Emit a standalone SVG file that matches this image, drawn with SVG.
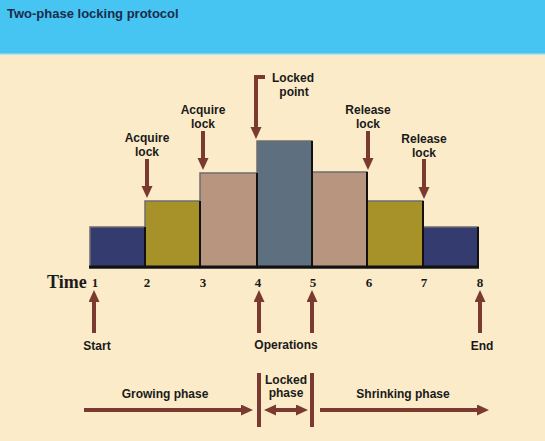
<svg xmlns="http://www.w3.org/2000/svg" width="545" height="441" viewBox="0 0 545 441">
<defs>
<style>
.lbl{font-family:"Liberation Sans",Arial,sans-serif;font-weight:bold;font-size:12px;fill:#1a1a1a;text-anchor:middle}
.num{font-family:"Liberation Serif","Times New Roman",serif;font-weight:bold;font-size:13px;fill:#1a1a1a;text-anchor:middle}
.bar{stroke:#6e6e6e;stroke-width:1.5}
.arr{stroke:#7a3a2f;stroke-width:4;fill:none}
.pole{fill:#7a3a2f}
</style>
<marker id="ah" markerUnits="userSpaceOnUse" markerWidth="13" markerHeight="12" refX="2" refY="5.5" orient="auto-start-reverse" viewBox="0 0 13 12">
<path d="M0,0 L12,5.5 L0,11 z" fill="#7a3a2f"/>
</marker>
</defs>
<rect x="0" y="0" width="545" height="441" fill="#fbebc9"/>
<g id="header">
<rect x="0" y="0" width="545" height="54" fill="#46c5f2"/>
<rect x="0" y="53" width="545" height="1.5" fill="#7fd6f4"/>
<text x="7" y="18" style="font-family:'Liberation Sans',Arial,sans-serif;font-weight:bold;font-size:13px;fill:#1a2b4a">Two-phase locking protocol</text>
</g>
<g id="bars">
<rect class="bar" x="90" y="227" width="55" height="41" fill="#343b6e"/>
<rect class="bar" x="145" y="201" width="55" height="67" fill="#a79129"/>
<rect class="bar" x="200" y="173" width="57" height="95" fill="#b8957f"/>
<rect class="bar" x="257" y="141" width="55" height="127" fill="#5e6f80"/>
<rect class="bar" x="312" y="172" width="55" height="96" fill="#b8957f"/>
<rect class="bar" x="367" y="201" width="56" height="67" fill="#a79129"/>
<rect class="bar" x="423" y="227" width="55" height="41" fill="#343b6e"/>
<path d="M145,227 V268 M200,201 V268 M257,173 V268 M312,141 V268 M367,172 V268 M423,201 V268 M478,227 V268" stroke="#111" stroke-width="2" fill="none"/>
<path d="M89,267 H479" stroke="#111" stroke-width="3"/>
</g>
<g id="axis">
<text x="47" y="288" style="font-family:'Liberation Serif','Times New Roman',serif;font-weight:bold;font-size:18px;fill:#1a1a1a">Time</text>
<text class="num" x="95" y="287">1</text>
<text class="num" x="147" y="287">2</text>
<text class="num" x="203" y="287">3</text>
<text class="num" x="258" y="287">4</text>
<text class="num" x="313" y="287">5</text>
<text class="num" x="369" y="287">6</text>
<text class="num" x="424" y="287">7</text>
<text class="num" x="480" y="287">8</text>
</g>
<g id="labels">
<text class="lbl" x="147" y="142">Acquire</text>
<text class="lbl" x="147" y="156">lock</text>
<text class="lbl" x="203" y="114">Acquire</text>
<text class="lbl" x="203" y="128">lock</text>
<text class="lbl" x="293" y="82">Locked</text>
<text class="lbl" x="294" y="96">point</text>
<text class="lbl" x="368" y="114">Release</text>
<text class="lbl" x="368" y="128">lock</text>
<text class="lbl" x="424" y="143">Release</text>
<text class="lbl" x="424" y="157">lock</text>
<text class="lbl" x="97" y="350">Start</text>
<text class="lbl" x="286" y="349">Operations</text>
<text class="lbl" x="482" y="350">End</text>
<text class="lbl" x="165" y="398">Growing phase</text>
<text class="lbl" x="286" y="384">Locked</text>
<text class="lbl" x="286" y="397">phase</text>
<text class="lbl" x="403" y="398">Shrinking phase</text>
</g>
<g id="connectors">
<path class="arr" d="M147,159 V188" marker-end="url(#ah)"/>
<path class="arr" d="M203,131 V160" marker-end="url(#ah)"/>
<path class="arr" d="M265,77 H256 V129" stroke-linejoin="miter" marker-end="url(#ah)"/>
<path class="arr" d="M368,131 V160" marker-end="url(#ah)"/>
<path class="arr" d="M424,159 V189" marker-end="url(#ah)"/>
<path class="arr" d="M94,333 V300" marker-end="url(#ah)"/>
<path class="arr" d="M259,333 V300" marker-end="url(#ah)"/>
<path class="arr" d="M312,333 V300" marker-end="url(#ah)"/>
<path class="arr" d="M480,333 V300" marker-end="url(#ah)"/>
<path class="arr" d="M84,410 H243" marker-end="url(#ah)"/>
<path class="arr" d="M274,410 H298" marker-start="url(#ah)" marker-end="url(#ah)"/>
<path class="arr" d="M320,410 H479" marker-end="url(#ah)"/>
<rect class="pole" x="257" y="373" width="4" height="54"/>
<rect class="pole" x="310" y="373" width="4" height="54"/>
</g>
</svg>
